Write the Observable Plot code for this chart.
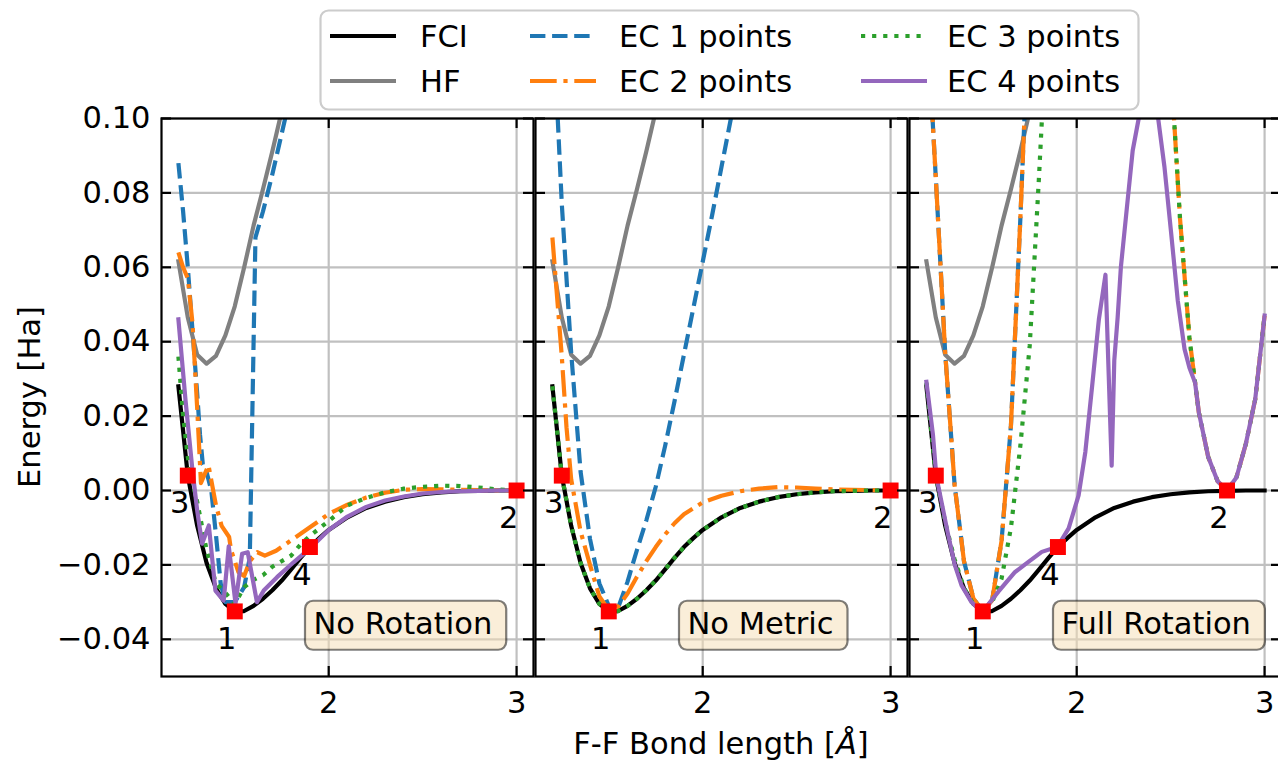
<!DOCTYPE html>
<html><head><meta charset="utf-8">
<script src="https://cdn.jsdelivr.net/npm/d3@7"></script>
<script src="https://cdn.jsdelivr.net/npm/@observablehq/plot@0.6"></script>
<style>
html,body{margin:0;padding:0;background:#fff;}
#fig{position:relative;width:1278px;height:762px;overflow:hidden;font-family:"DejaVu Sans";}
#fig svg{position:absolute;}
</style></head><body><div id="fig"></div>
<script>
// ---------------- data (bond length [Å], energy [Ha]) ----------------
const fciEnergy = [[1.20,0.0280],[1.25,0.0040],[1.30,-0.0095],[1.35,-0.0195],[1.40,-0.0263],[1.45,-0.0305],[1.50,-0.0325],[1.55,-0.0324],[1.60,-0.0310],[1.65,-0.0291],[1.70,-0.0268],[1.75,-0.0242],[1.80,-0.0212],[1.85,-0.0181],[1.90,-0.0152],[1.95,-0.0128],[2.00,-0.0106],[2.10,-0.0072],[2.20,-0.0047],[2.30,-0.0030],[2.40,-0.0018],[2.50,-0.0010],[2.60,-0.0005],[2.70,-0.0002],[2.80,-0.0001],[2.90,0.0],[3.00,0.0]];
const hfEnergy = [[1.20,0.0616],[1.25,0.0465],[1.30,0.0365],[1.35,0.0341],[1.40,0.0362],[1.45,0.0417],[1.50,0.0495],[1.55,0.0600],[1.60,0.0712],[1.65,0.0810],[1.70,0.0912],[1.75,0.1020],[1.80,0.1130]];

// No Rotation
const ec1NoRotation = [[1.20,0.0880],[1.225,0.0750],[1.25,0.0600],[1.275,0.0430],[1.30,0.0260],[1.315,0.0150],[1.33,0.0070],[1.35,0.0050],[1.375,0.0000],[1.40,-0.0120],[1.425,-0.0250],[1.45,-0.0300],[1.50,-0.0300],[1.55,-0.0260],[1.58,-0.0180],[1.61,0.0680],[1.65,0.0750],[1.70,0.0850],[1.75,0.0960],[1.80,0.1070]];
const ec2NoRotation = [[1.20,0.0640],[1.225,0.0600],[1.25,0.0570],[1.275,0.0450],[1.30,0.0220],[1.32,0.0020],[1.36,0.0068],[1.40,-0.0040],[1.43,-0.0095],[1.47,-0.0125],[1.48,-0.0160],[1.52,-0.0220],[1.55,-0.0230],[1.58,-0.0190],[1.62,-0.0166],[1.66,-0.0175],[1.72,-0.0162],[1.80,-0.0134],[1.90,-0.0099],[2.00,-0.0063],[2.10,-0.0038],[2.20,-0.0019],[2.30,-0.0006],[2.40,0.0002],[2.50,0.0004],[2.60,0.0003],[2.70,0.0002],[2.80,0.0001],[2.90,0.0],[3.00,0.0]];
const ec3NoRotation = [[1.20,0.0360],[1.225,0.0200],[1.25,0.0090],[1.275,0.0020],[1.30,-0.0030],[1.35,-0.0160],[1.40,-0.0250],[1.45,-0.0275],[1.50,-0.0305],[1.55,-0.0260],[1.60,-0.0240],[1.65,-0.0228],[1.70,-0.0205],[1.80,-0.0175],[1.85,-0.0145],[1.90,-0.0122],[2.00,-0.0082],[2.10,-0.0040],[2.20,-0.0020],[2.30,-0.0005],[2.40,0.0005],[2.50,0.0010],[2.60,0.0013],[2.70,0.0012],[2.80,0.0008],[2.90,0.0003],[3.00,0.0]];
const ec4NoRotation = [[1.20,0.0460],[1.238,0.0242],[1.273,0.0063],[1.30,-0.0054],[1.326,-0.0143],[1.362,-0.0094],[1.397,-0.0269],[1.441,-0.0296],[1.468,-0.0150],[1.504,-0.0304],[1.539,-0.0170],[1.569,-0.0166],[1.618,-0.0300],[1.654,-0.0269],[1.725,-0.0233],[1.813,-0.0193],[1.908,-0.0152],[2.00,-0.0106],[2.10,-0.0070],[2.20,-0.0044],[2.30,-0.0027],[2.40,-0.0016],[2.50,-0.0008],[2.60,-0.0004],[2.70,-0.0002],[2.80,-0.0001],[2.90,0.0],[3.00,0.0]];

// No Metric
const ec1NoMetric = [[1.20,0.1300],[1.25,0.0770],[1.30,0.0370],[1.35,0.0050],[1.40,-0.0130],[1.45,-0.0250],[1.50,-0.0310],[1.525,-0.0325],[1.55,-0.0315],[1.60,-0.0245],[1.65,-0.0160],[1.70,-0.0080],[1.75,0.0010],[1.80,0.0120],[1.85,0.0240],[1.90,0.0365],[1.95,0.0490],[2.00,0.0615],[2.05,0.0740],[2.10,0.0870],[2.15,0.1000],[2.20,0.1120]];
const ec2NoMetric = [[1.20,0.0680],[1.225,0.0520],[1.25,0.0360],[1.275,0.0170],[1.30,0.0030],[1.35,-0.0110],[1.40,-0.0200],[1.45,-0.0285],[1.50,-0.0322],[1.55,-0.0312],[1.60,-0.0277],[1.65,-0.0232],[1.70,-0.0190],[1.75,-0.0152],[1.80,-0.0118],[1.85,-0.0088],[1.90,-0.0064],[2.00,-0.0032],[2.10,-0.0014],[2.20,-0.0002],[2.30,0.0005],[2.40,0.0009],[2.50,0.0008],[2.60,0.0005],[2.70,0.0003],[2.80,0.0002],[2.90,0.0001],[3.00,0.0]];
const ec3NoMetric = [[1.20,0.0280],[1.25,0.0040],[1.30,-0.0095],[1.35,-0.0195],[1.40,-0.0263],[1.45,-0.0305],[1.50,-0.0325],[1.55,-0.0324],[1.60,-0.0310],[1.65,-0.0291],[1.70,-0.0268],[1.75,-0.0242],[1.80,-0.0212],[1.85,-0.0181],[1.90,-0.0152],[1.95,-0.0128],[2.00,-0.0106],[2.10,-0.0072],[2.20,-0.0047],[2.30,-0.0030],[2.40,-0.0018],[2.50,-0.0010],[2.60,-0.0005],[2.70,-0.0002],[2.80,-0.0001],[2.90,0.0],[3.00,0.0]];

// Full Rotation
const ec1FullRotation = [[1.20,0.1300],[1.25,0.0840],[1.30,0.0370],[1.35,0.0015],[1.40,-0.0190],[1.45,-0.0290],[1.50,-0.0325],[1.55,-0.0295],[1.60,-0.0135],[1.65,0.0175],[1.70,0.0730],[1.75,0.1350]];
const ec2FullRotation = [[1.20,0.1300],[1.25,0.0840],[1.30,0.0370],[1.35,0.0015],[1.40,-0.0190],[1.45,-0.0290],[1.50,-0.0325],[1.55,-0.0295],[1.60,-0.0135],[1.65,0.0175],[1.70,0.0730],[1.75,0.1350],[2.50,0.1150],[2.55,0.0730],[2.60,0.0410],[2.63,0.0290],[2.65,0.0210],[2.70,0.0090],[2.75,0.0025],[2.80,0.0],[2.85,0.0035],[2.90,0.0125],[2.95,0.0245],[3.00,0.0470]];
const ec3FullRotation = [[1.20,0.0290],[1.25,0.0040],[1.30,-0.0085],[1.35,-0.0185],[1.40,-0.0262],[1.45,-0.0305],[1.50,-0.0325],[1.55,-0.0300],[1.60,-0.0237],[1.65,-0.0100],[1.70,0.0120],[1.75,0.0390],[1.80,0.0850],[1.85,0.1350],[2.50,0.1150],[2.55,0.0730],[2.60,0.0410],[2.63,0.0290],[2.65,0.0210],[2.70,0.0090],[2.75,0.0025],[2.80,0.0],[2.85,0.0035],[2.90,0.0125],[2.95,0.0245],[3.00,0.0470]];
const ec4FullRotation = [[1.20,0.0292],[1.235,0.0149],[1.253,0.0037],[1.28,-0.0030],[1.316,-0.0120],[1.351,-0.0200],[1.387,-0.0255],[1.44,-0.0300],[1.485,-0.0322],[1.50,-0.0325],[1.583,-0.0272],[1.672,-0.0219],[1.743,-0.0192],[1.814,-0.0165],[1.898,-0.0151],[1.957,-0.0102],[2.01,-0.0013],[2.046,0.0104],[2.082,0.0280],[2.118,0.0460],[2.153,0.0580],[2.186,0.0067],[2.20,0.0350],[2.218,0.0466],[2.235,0.0600],[2.271,0.0780],[2.298,0.0914],[2.33,0.1000],[2.38,0.1070],[2.431,0.1010],[2.467,0.0870],[2.503,0.0690],[2.538,0.0510],[2.574,0.0380],[2.60,0.0330],[2.63,0.0290],[2.65,0.0210],[2.70,0.0090],[2.75,0.0025],[2.80,0.0],[2.85,0.0035],[2.90,0.0125],[2.95,0.0245],[3.00,0.0470]];

// training points [bond, energy, label]
const trainNoRotation = [[1.50,-0.0325,"1"],[3.00,0.0,"2"],[1.25,0.0040,"3"],[1.90,-0.0152,"4"]];
const trainNoMetric = [[1.50,-0.0325,"1"],[3.00,0.0,"2"],[1.25,0.0040,"3"]];
const trainFullRotation = [[1.50,-0.0325,"1"],[2.80,0.0,"2"],[1.25,0.0040,"3"],[1.90,-0.0152,"4"]];

const seriesNames = ["FCI","HF","EC 1 points","EC 2 points","EC 3 points","EC 4 points"];
const panelTitles = ["No Rotation","No Metric","Full Rotation"];
const xTicks = [2, 3];
const yTicks = [-0.04, -0.02, 0.00, 0.02, 0.04, 0.06, 0.08, 0.10];

// ---------------- styles / layout ----------------
const seriesColors = ["#000000","#808080","#1f77b4","#ff7f0e","#2ca02c","#9467bd"];
const seriesDash = [null, null, "15.4,6.7", "26.7,6.7,4.2,6.7", "4.2,6.9", null];
const LW = 4.2, FONT = 30.5, GRID = "#c0c0c0", AXW = 2.2, TICK = 10;
const PANEL_W = 372, PANEL_H = 558, MT = 10, MB = 86, SVG_TOP = 108;
const panelLefts = [161, 535, 909];

const panels = [
  {title: panelTitles[0], curves: [fciEnergy, hfEnergy, ec1NoRotation, ec2NoRotation, ec3NoRotation, ec4NoRotation], train: trainNoRotation},
  {title: panelTitles[1], curves: [fciEnergy, hfEnergy, ec1NoMetric, ec2NoMetric, ec3NoMetric, null], train: trainNoMetric},
  {title: panelTitles[2], curves: [fciEnergy, hfEnergy, ec1FullRotation, ec2FullRotation, ec3FullRotation, ec4FullRotation], train: trainFullRotation}
];

const fig = document.getElementById("fig");
const SVGNS = "http://www.w3.org/2000/svg";

panels.forEach((p, i) => {
  const ml = i === 0 ? 161 : 3, mr = 3;
  const lines = [];
  p.curves.forEach((c, k) => {
    if (!c) return;
    lines.push(Plot.line(c, {
      x: d => d[0], y: d => d[1], stroke: seriesColors[k], strokeWidth: LW,
      strokeDasharray: seriesDash[k] || undefined, strokeLinecap: seriesDash[k] ? "butt" : "square",
      strokeLinejoin: "round", clip: true
    }));
  });
  const svg = Plot.plot({
    width: ml + PANEL_W + mr, height: MT + PANEL_H + MB,
    marginLeft: ml, marginRight: mr, marginTop: MT, marginBottom: MB,
    x: {domain: [1.11, 3.09]},
    y: {domain: [-0.05, 0.10], axis: i === 0 ? undefined : null},
    style: {fontFamily: "DejaVu Sans", fontSize: FONT + "px", background: "transparent", overflow: "visible", color: "black"},
    marks: [
      Plot.gridX(xTicks, {stroke: GRID, strokeOpacity: 1, strokeWidth: AXW}),
      Plot.gridY(yTicks, {stroke: GRID, strokeOpacity: 1, strokeWidth: AXW}),
      ...lines,
      Plot.dot(p.train, {x: d => d[0], y: d => d[1], symbol: "square", r: 9, fill: "#ff0000", stroke: null}),
      Plot.text(p.train, {x: d => d[0], y: d => d[1], text: d => d[2], dx: -8, dy: 28, fontSize: FONT, fill: "black"}),
      Plot.text([p.title], {text: d => d, frameAnchor: "bottom-left", dx: 152, dy: -52, textAnchor: "start", lineAnchor: "middle", fontSize: FONT, fill: "black"}),
      Plot.frame({stroke: "black", strokeWidth: AXW}),
      Plot.tickX(xTicks, {x: d => d, insetTop: PANEL_H - TICK, stroke: "black", strokeWidth: AXW}),
      Plot.tickX(xTicks, {x: d => d, insetBottom: PANEL_H - TICK, stroke: "black", strokeWidth: AXW}),
      Plot.tickY(yTicks, {y: d => d, insetRight: PANEL_W - TICK, stroke: "black", strokeWidth: AXW}),
      Plot.tickY(yTicks, {y: d => d, insetLeft: PANEL_W - TICK, stroke: "black", strokeWidth: AXW}),
      Plot.axisX(xTicks, {tickSize: 0, tickPadding: 15, fontSize: FONT, label: null, tickFormat: d => String(d)}),
      i === 0 ? Plot.axisY(yTicks, {tickSize: 0, tickPadding: 11, fontSize: FONT, label: null, tickFormat: d3.format(".2f")}) : null
    ]
  });
  svg.style.left = (panelLefts[i] - ml) + "px";
  svg.style.top = SVG_TOP + "px";
  fig.appendChild(svg);
  // rounded label box behind the panel title
  const t = Array.from(svg.querySelectorAll("text")).find(el => el.textContent === p.title);
  if (t) {
    const bb = t.getBBox();
    const r = document.createElementNS(SVGNS, "rect");
    const cy = bb.y + bb.height / 2 + 1.5;
    r.setAttribute("x", bb.x - 8.5);
    r.setAttribute("width", bb.width + 8.5 + 14);
    r.setAttribute("y", cy - 24.5);
    r.setAttribute("height", 49);
    r.setAttribute("rx", 8);
    r.setAttribute("fill", "#f5deb3");
    r.setAttribute("fill-opacity", 0.5);
    r.setAttribute("stroke", "#000");
    r.setAttribute("stroke-opacity", 0.5);
    r.setAttribute("stroke-width", 2.2);
    if (t.getAttribute("transform")) r.setAttribute("transform", t.getAttribute("transform"));
    t.parentNode.insertBefore(r, t);
  }
});

// ---------------- legend and axis titles ----------------
const over = d3.select(fig).append("svg").attr("width", 1278).attr("height", 762)
  .style("left", "0px").style("top", "0px").style("pointer-events", "none")
  .style("font-family", "DejaVu Sans").style("font-size", FONT + "px");
over.append("rect").attr("x", 320.5).attr("y", 10.5).attr("width", 818).attr("height", 99).attr("rx", 8)
  .attr("fill", "white").attr("stroke", "#cccccc").attr("stroke-width", 2.2);
const colHandle = [330, 530, 861], colText = [420, 619, 947], rowY = [36, 81];
seriesNames.forEach((name, k) => {
  const col = Math.floor(k / 2), row = k % 2;
  over.append("line").attr("x1", colHandle[col]).attr("x2", colHandle[col] + 66)
    .attr("y1", rowY[row]).attr("y2", rowY[row]).attr("stroke", seriesColors[k]).attr("stroke-width", LW)
    .attr("stroke-dasharray", seriesDash[k]).attr("stroke-linecap", "butt");
  over.append("text").attr("x", colText[col]).attr("y", rowY[row] + 11).attr("fill", "black").text(name);
});
over.append("text").attr("transform", "translate(40,397) rotate(-90)").attr("text-anchor", "middle").attr("fill", "black").text("Energy [Ha]");
const xl = over.append("text").attr("x", 721).attr("y", 754).attr("text-anchor", "middle").attr("fill", "black");
xl.append("tspan").text("F-F Bond length [");
xl.append("tspan").attr("font-style", "italic").text("Å");
xl.append("tspan").text("]");
</script></body></html>
